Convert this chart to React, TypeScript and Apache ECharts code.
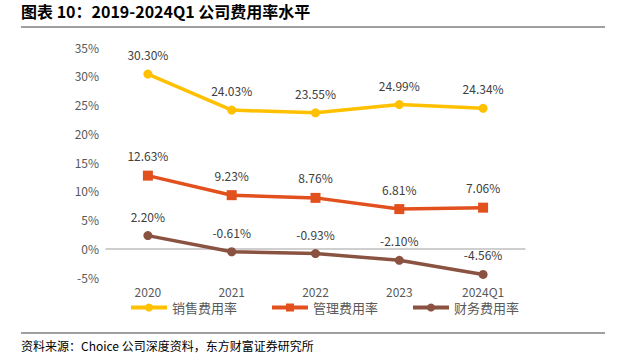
import React, { useEffect, useRef } from "react";
import * as echarts from "echarts";

const categories = ["2020", "2021", "2022", "2023", "2024Q1"];
const salesRate = [30.3, 24.03, 23.55, 24.99, 24.34];
const adminRate = [12.63, 9.23, 8.76, 6.81, 7.06];
const financeRate = [2.2, -0.61, -0.93, -2.1, -4.56];
const seriesNames = ["销售费用率", "管理费用率", "财务费用率"];
const titleText = "图表 10：2019-2024Q1 公司费用率水平";
const sourceText = "资料来源：Choice 公司深度资料，东方财富证券研究所";

const cjk = '"Noto Sans CJK SC", "Noto Sans", sans-serif';

export default function App() {
  const ref = useRef<HTMLDivElement>(null);
  useEffect(() => {
    if (!ref.current) return;
    const chart = echarts.init(ref.current, undefined, { renderer: "svg" });
    const label = {
      show: true,
      position: "top",
      distance: 9,
      color: "#404040",
      fontSize: 12,
      fontFamily: cjk,
      formatter: (p: any) => Number(p.value).toFixed(2) + "%",
    };
    const mk = (name: string, data: number[], color: string, symbol: string, size: number) => ({
      name,
      type: "line",
      data,
      symbol,
      symbolSize: size,
      lineStyle: { color, width: 3.5 },
      itemStyle: { color },
      label,
    });
    chart.setOption({
      animation: false,
      backgroundColor: "#ffffff",
      grid: { left: 106, right: 97, top: 47, bottom: 83 },
      xAxis: {
        type: "category",
        data: categories,
        axisLine: { lineStyle: { color: "#bfbfbf", width: 1.5 } },
        axisTick: { show: false },
        axisLabel: { color: "#595959", fontSize: 12, fontFamily: cjk, margin: 8 },
      },
      yAxis: {
        type: "value",
        min: -5,
        max: 35,
        interval: 5,
        axisLine: { show: false },
        axisTick: { show: false },
        splitLine: { show: false },
        axisLabel: { color: "#595959", fontSize: 12, fontFamily: cjk, formatter: "{value}%", margin: 7 },
      },
      legend: {
        data: seriesNames,
        bottom: 41,
        left: 124,
        itemWidth: 36,
        itemHeight: 10,
        itemGap: 33,
        lineStyle: { width: 4 },
        textStyle: { color: "#595959", fontSize: 13, fontFamily: cjk },
      },
      graphic: [
        {
          type: "text",
          left: 21,
          top: 3,
          style: { text: titleText, fontSize: 16, fontWeight: "bold", fill: "#000", fontFamily: cjk },
        },
        {
          type: "line",
          shape: { x1: 21, y1: 27, x2: 605, y2: 27 },
          style: { stroke: "#7f7f7f", lineWidth: 1.5 },
        },
        {
          type: "line",
          shape: { x1: 21, y1: 333, x2: 605, y2: 333 },
          style: { stroke: "#7f7f7f", lineWidth: 1.5 },
        },
        {
          type: "text",
          left: 21,
          top: 339,
          style: { text: sourceText, fontSize: 12, fill: "#000", fontFamily: cjk },
        },
      ],
      series: [
        mk(seriesNames[0], salesRate, "#FFC000", "circle", 9),
        mk(seriesNames[1], adminRate, "#E2501D", "rect", 10),
        mk(seriesNames[2], financeRate, "#8A5240", "circle", 9),
      ],
    });
    return () => chart.dispose();
  }, []);
  return (
    <div
      ref={ref}
      style={{ position: "fixed", left: 0, top: 0, width: 622, height: 360 }}
    />
  );
}
